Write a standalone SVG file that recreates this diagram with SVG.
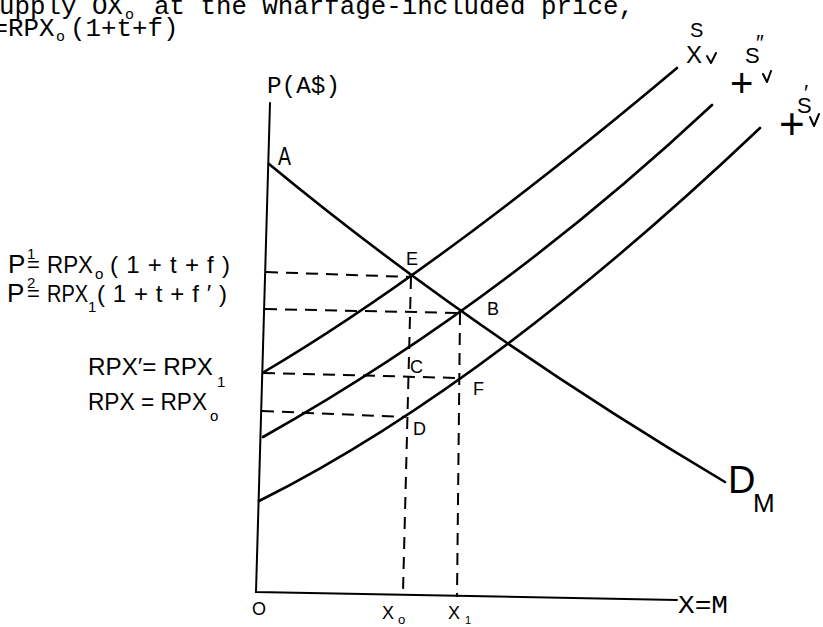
<svg xmlns="http://www.w3.org/2000/svg" width="823" height="627" viewBox="0 0 823 627">
<style>
  .bg { fill: #ffffff; }
  .ax { stroke: #000; stroke-width: 2; fill: none; stroke-linecap: round; }
  .cv { stroke: #000; stroke-width: 2.6; fill: none; stroke-linecap: round; }
  .dash { stroke: #000; stroke-width: 2; fill: none; stroke-dasharray: 12 8; }
  .tick { stroke: #000; stroke-width: 2; fill: none; stroke-linecap: round; stroke-linejoin: round; }
  .mono { font-family: "Liberation Mono", "Courier New", monospace; fill: #000; }
  .hand { font-family: "Liberation Sans", Arial, sans-serif; fill: #000; }
</style>
<rect class="bg" x="0" y="0" width="823" height="627"/>

<!-- caption text at top -->
<g id="caption">
  <text class="mono" font-size="25.8"><tspan x="-1" y="14">upply OX</tspan><tspan x="125" y="19" font-size="15">o</tspan><tspan x="154" y="14">at the wharfage-included price,</tspan></text>
  <text class="mono" font-size="25.8"><tspan x="-7.5" y="36">=RPX</tspan><tspan x="56" y="41" font-size="15">o</tspan><tspan x="70" y="36">(1+t+f)</tspan></text>
</g>

<!-- axes -->
<g id="axes">
  <path class="ax" d="M270,103 L256,592 L677,600"/>
  <text class="mono" x="267" y="93" font-size="24" textLength="73" lengthAdjust="spacingAndGlyphs">P(A$)</text>
  <text class="mono" x="678" y="613" font-size="26" textLength="50" lengthAdjust="spacingAndGlyphs">X=M</text>
  <text class="hand" x="252" y="615" font-size="18">O</text>
  <text class="hand" font-size="18"><tspan x="382" y="619">X</tspan><tspan x="398" y="624" font-size="13">o</tspan></text>
  <text class="hand" font-size="18"><tspan x="448" y="619">X</tspan><tspan x="465" y="624" font-size="11">1</tspan></text>
</g>

<!-- guide (dashed) lines -->
<g id="guides">
  <path class="dash" d="M266,272 L411,277"/>
  <path class="dash" d="M265,309 L460,313"/>
  <path class="dash" d="M263,373 L459,378"/>
  <path class="dash" d="M262,411 L406,417"/>
  <path class="dash" d="M411,277 L403,592"/>
  <path class="dash" d="M460,313 L457,597"/>
</g>

<!-- curves -->
<g id="curves">
  <path id="demand" class="cv" d="M269,164 Q471,331 725,482"/>
  <path id="supply-S" class="cv" d="M264,372 Q435.6,270.8 677,68"/>
  <path id="supply-S2" class="cv" d="M263,437 Q498,305 712,105"/>
  <path id="supply-S1" class="cv" d="M259,501 Q487.8,386.6 760,128"/>
</g>

<!-- point labels -->
<g id="points">
  <text class="hand" x="278" y="165" font-size="25" textLength="13" lengthAdjust="spacingAndGlyphs">A</text>
  <text class="hand" x="406" y="265" font-size="18">E</text>
  <text class="hand" x="487" y="315" font-size="18">B</text>
  <text class="hand" x="410" y="373" font-size="18">C</text>
  <text class="hand" x="473" y="395" font-size="18">F</text>
  <text class="hand" x="413" y="435" font-size="18">D</text>
  <text class="hand"><tspan x="728" y="493" font-size="38">D</tspan><tspan x="753" y="512" font-size="26">M</tspan></text>
</g>

<!-- supply curve labels -->
<g id="supply-labels">
  <text class="hand" x="690" y="37" font-size="20">S</text>
  <text class="hand" x="686" y="63" font-size="24">X</text>
  <path class="tick" d="M707,56 L711,63 L716,53"/>
  <text class="hand"><tspan x="745" y="63" font-size="22">S</tspan><tspan x="756" y="50" font-size="22">″</tspan></text>
  <text class="hand" x="730" y="97" font-size="40">+</text>
  <path class="tick" d="M763,74 L767,82 L771,71"/>
  <text class="hand"><tspan x="797" y="113" font-size="22">S</tspan><tspan x="804" y="100" font-size="22">′</tspan></text>
  <text class="hand" x="779" y="139" font-size="44">+</text>
  <path class="tick" d="M810,117 L814,126 L819,114"/>
</g>

<!-- price labels -->
<g id="price-labels">
  <text class="hand" font-size="24"><tspan x="8" y="273" font-size="26">P</tspan><tspan x="27" y="259" font-size="15">1</tspan><tspan x="27" y="272" font-size="22">=</tspan><tspan x="47" y="273" textLength="46" lengthAdjust="spacingAndGlyphs">RPX</tspan><tspan x="95" y="279" font-size="15">o</tspan><tspan x="110" y="273" textLength="120" lengthAdjust="spacing">(1+t+f)</tspan></text>

  <text class="hand" font-size="24"><tspan x="7" y="302" font-size="26">P</tspan><tspan x="27" y="288" font-size="15">2</tspan><tspan x="27" y="301" font-size="22">=</tspan><tspan x="47" y="302" textLength="41" lengthAdjust="spacingAndGlyphs">RPX</tspan><tspan x="88" y="312" font-size="15">1</tspan><tspan x="97" y="302" textLength="130" lengthAdjust="spacing">(1+t+f′)</tspan></text>

  <text class="hand" font-size="24"><tspan x="88" y="375" textLength="125" lengthAdjust="spacingAndGlyphs">RPX′= RPX</tspan><tspan x="217" y="387" font-size="15">1</tspan></text>

  <text class="hand" font-size="24"><tspan x="88" y="410" textLength="119" lengthAdjust="spacingAndGlyphs">RPX = RPX</tspan><tspan x="210" y="421" font-size="15">o</tspan></text>
</g>
</svg>
